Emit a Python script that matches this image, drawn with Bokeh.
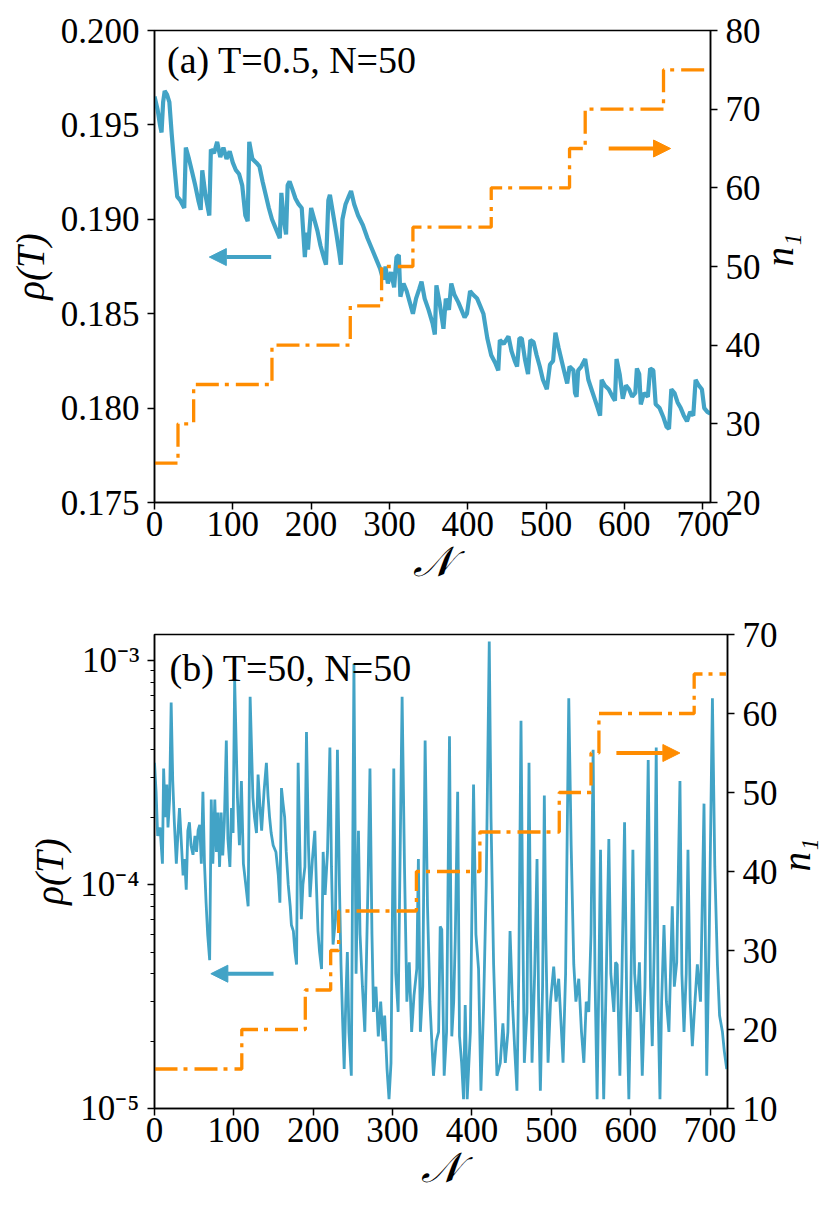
import math
from bokeh.plotting import figure
from bokeh.models import (Range1d, LinearAxis, LinearScale, FixedTicker, PrintfTickFormatter,
                          Arrow, NormalHead, Label, CustomJSTickFormatter)
from bokeh.layouts import column
from bokeh.embed import file_html
from bokeh.resources import INLINE

# ---------------- data: panel (a) T=0.5 ----------------
rho_a_x = [0, 4, 7, 9, 11, 13, 16, 19, 22, 25,
           29, 33, 38, 40, 44, 48, 52, 56, 59, 61,
           65, 70, 72, 76, 80, 84, 88, 92, 96, 100,
           104, 108, 112, 116, 119, 121, 125, 130, 134, 138,
           142, 146, 150, 154, 158, 160, 162, 165, 168, 170,
           172.5, 176, 180, 184, 188, 190, 192, 194, 196, 200,
           204, 208, 212, 216, 219, 222, 224, 228, 232, 236,
           238, 240, 244, 248, 251, 255, 260, 266, 272, 278,
           284, 288, 292, 295, 298, 302, 306, 309, 312, 314,
           318, 322, 326, 330, 334, 338, 341, 345, 350, 355,
           358, 360, 364, 369, 372, 376, 379, 383, 388, 392,
           396, 399, 403, 407, 412, 416, 420, 425, 430, 435,
           439, 441, 446, 452, 456, 460, 463, 466, 469, 473,
           477, 480, 484, 488, 492, 496, 501, 505, 509, 512,
           516, 520, 524, 527, 530, 535, 537, 539, 541, 545,
           550, 554, 558, 562, 566, 569, 571, 575, 580, 585,
           588, 590, 594, 598, 602, 606, 610, 614, 616, 619,
           621, 625, 630, 633, 637, 640, 645, 650, 654, 657,
           660, 664, 668, 672, 676, 680, 684, 688, 691, 695,
           699, 702, 706, 710]
rho_a = [.1965, .1958, .1950, .1946, .1962, .1968, .1966, .1962, .1945, .1930,
         .1912, .1910, .1906, .1938, .1932, .1925, .1918, .1910, .1905, .1926,
         .1913, .1902, .1937, .1935, .1941, .1933, .1938, .1932, .1936, .1930,
         .1926, .1924, .1918, .1902, .1899, .1941, .1932, .1930, .1928, .1920,
         .1913, .1906, .1900, .1896, .1892, .1890, .1914, .1900, .1892, .1918,
         .1920, .1916, .1911, .1908, .1906, .1893, .1880, .1893, .1884, .1906,
         .1900, .1894, .1886, .1880, .1876, .1910, .1913, .1903, .1893, .1882,
         .1876, .1900, .1908, .1912, .1915, .1908, .1902, .1897, .1890, .1884,
         .1878, .1874, .1868, .1875, .1866, .1872, .1864, .1880, .1881, .1859,
         .1866, .1862, .1856, .1850, .1858, .1863, .1867, .1858, .1852, .1845,
         .1839, .1865, .1856, .1842, .1858, .1852, .1866, .1860, .1856, .1852,
         .1848, .1850, .1862, .1860, .1858, .1854, .1850, .1837, .1828, .1824,
         .1820, .1836, .1834, .1838, .1830, .1825, .1822, .1837, .1837, .1826,
         .1818, .1836, .1835, .1828, .1822, .1815, .1810, .1823, .1825, .1840,
         .1832, .1825, .1818, .1813, .1822, .1820, .1808, .1806, .1820, .1822,
         .1826, .1815, .1810, .1805, .1800, .1796, .1815, .1812, .1810, .1806,
         .1804, .1826, .1818, .1805, .1812, .1810, .1806, .1808, .1821, .1818,
         .1802, .1808, .1806, .1821, .1820, .1802, .1800, .1795, .1790, .1789,
         .1810, .1808, .1803, .1800, .1796, .1793, .1798, .1796, .1815, .1812,
         .1810, .1800, .1798, .1797]
n1_a_x = [0, 30, 50, 150, 250, 290, 330, 430, 530, 550, 650, 710]
n1_a = [25, 30, 35, 40, 45, 50, 55, 60, 65, 70, 75, 75]

# ---------------- data: panel (b) T=50 ----------------
rho_b_x = [0, 2, 4, 7, 10, 11.5, 13.5, 15.5, 17, 19,
           21, 23, 25, 27.5, 30, 31.5, 34, 36, 38, 40,
           42, 44, 46, 48.5, 51, 53, 55, 57, 59, 61,
           63, 65, 67, 69.5, 71.5, 73.5, 76, 78, 80, 82,
           84, 86, 88, 90.5, 92.5, 95, 97, 99, 101, 104.5,
           107, 109.5, 112, 115, 118, 120.5, 124, 126, 128.5, 130.5,
           133, 135, 138, 141, 143, 145, 147, 149.5, 153, 156,
           158, 160, 162, 164, 166, 168.5, 171, 172.5, 175, 177,
           179, 181, 183, 185, 187, 189.5, 191.5, 194, 196, 199,
           202, 204, 206, 208, 210.5, 212.5, 215, 218, 221, 223,
           225, 228, 230.5, 233, 235, 237, 239, 241, 243, 245,
           248, 251.3, 254, 257, 259, 262, 265, 267, 269, 271.5,
           274, 276, 279, 282, 285, 288, 290, 293, 295.5, 298,
           301.5, 304, 307, 312, 315, 318, 321, 324, 327, 330.5,
           332.5, 335, 338, 341, 344, 347, 351.5, 355, 358, 360,
           362, 365, 368, 371.7, 374.6, 377, 379, 382, 384.3, 387,
           389.4, 391.5, 394, 398, 402, 405, 408.3, 411.3, 414.6, 418,
           421.8, 424, 427.3, 431.5, 435.7, 439, 442, 445.3, 448, 451,
           454, 456.7, 459, 461.8, 464, 466, 469.3, 471.9, 474, 475.7,
           479, 482, 484, 486.2, 489, 491.2, 493, 495.9, 499, 503,
           506, 509.3, 512, 514.8, 518, 522, 525, 528.3, 531, 534.6,
           538, 541, 544, 547.2, 550, 552.7, 555, 557.7, 560, 562,
           564, 566, 569, 572.5, 575, 578.8, 581, 583, 586.4, 589,
           592.3, 595, 597.7, 600, 602.8, 605, 608, 611, 614.6, 618,
           622.1, 625, 627.2, 630, 632.2, 634.5, 636.9, 639, 642, 645,
           648.2, 652.4, 655, 658, 662.1, 664.5, 667.2, 670, 672.2, 675,
           677.7, 681, 684, 688, 692.4, 695.8, 699, 703, 706, 709.3,
           712, 715.6, 718, 721]
rho_b = [3.5e-4, 2.6e-4, 1.65e-4, 1.8e-4, 1.24e-4, 3.3e-4, 2.0e-4, 2.8e-4, 1.8e-4, 2.4e-4,
         6.5e-4, 2.9e-4, 1.9e-4, 1.24e-4, 1.8e-4, 2.2e-4, 1.5e-4, 1.1e-4, 1.3e-4, 9.5e-5,
         1.74e-4, 1.9e-4, 1.5e-4, 1.36e-4, 1.65e-4, 1.4e-4, 1.75e-4, 1.85e-4, 1.24e-4, 2.6e-4,
         1.24e-4, 8.3e-5, 6.0e-5, 4.6e-5, 2.4e-4, 1.24e-4, 2.4e-4, 1.4e-4, 2.1e-4, 1.2e-4,
         2.1e-4, 1.35e-4, 1.9e-4, 4.4e-4, 1.6e-4, 1.2e-4, 2.2e-4, 1.7e-4, 8.2e-4, 2.45e-4,
         1.5e-4, 2.9e-4, 1.24e-4, 1.0e-4, 8.0e-5, 6.9e-4, 2.45e-4, 2.0e-4, 1.7e-4, 3.1e-4,
         2.2e-4, 1.74e-4, 2.6e-4, 3.5e-4, 2.5e-4, 2.0e-4, 1.7e-4, 1.5e-4, 1.4e-4, 1.1e-4,
         8.3e-5, 2.7e-4, 2.3e-4, 2.0e-4, 1.4e-4, 1.0e-4, 8.0e-5, 6.6e-5, 6.2e-5, 5.0e-5,
         4.4e-5, 3.5e-4, 1.5e-4, 7.0e-5, 1.0e-4, 1.2e-4, 4.8e-4, 1.5e-4, 8.8e-5, 1.3e-4,
         1.74e-4, 1.0e-4, 6.2e-5, 5.0e-5, 4.2e-5, 1.4e-4, 9.0e-5, 1.4e-4, 4.1e-4, 1.2e-4,
         5.4e-5, 7.0e-5, 4.0e-4, 1.0e-4, 4.4e-5, 2.5e-5, 1.5e-5, 3.0e-5, 5.0e-5, 2.2e-5,
         1.4e-5, 9.7e-4, 4.0e-5, 1.74e-4, 6.0e-5, 3.5e-5, 2.2e-5, 4.5e-5, 1.0e-4, 3.3e-4,
         6.0e-5, 2.7e-5, 3.5e-5, 2.1e-5, 3.0e-5, 2.0e-5, 2.6e-5, 1.5e-5, 1.1e-5, 1.6e-5,
         3.3e-4, 4.0e-5, 2.7e-5, 6.9e-4, 1.2e-4, 3.0e-5, 4.5e-5, 2.2e-5, 3.2e-5, 4.2e-5,
         1.3e-4, 2.2e-5, 3.5e-5, 4.4e-4, 8.0e-5, 3.0e-5, 1.4e-5, 2.0e-5, 2.2e-5, 6.5e-5,
         6.3e-5, 1.4e-5, 2.2e-5, 4.6e-4, 2.1e-5, 3.0e-5, 5.8e-5, 2.6e-4, 2.1e-5, 1.6e-5,
         1.1e-5, 2.9e-5, 1.1e-5, 2.2e-5, 2.8e-4, 6.0e-5, 4.2e-5, 1.2e-5, 2.8e-5, 1.0e-4,
         1.22e-3, 2.0e-4, 4.4e-5, 1.4e-5, 1.6e-5, 2.4e-5, 1.6e-5, 2.2e-5, 6.2e-5, 3.0e-5,
         1.8e-5, 1.2e-5, 4.0e-5, 5.4e-4, 7.0e-5, 1.6e-5, 2.7e-5, 3.5e-4, 5.0e-5, 1.6e-5,
         4.0e-5, 1.3e-4, 3.0e-5, 1.2e-5, 3.5e-5, 2.5e-4, 6.0e-5, 1.6e-5, 3.0e-5, 4.3e-5,
         3.0e-5, 3.8e-5, 2.5e-5, 1.6e-5, 4.0e-5, 6.8e-4, 1.5e-4, 4.4e-5, 3.0e-5, 3.8e-5,
         2.2e-5, 1.6e-5, 3.0e-5, 2.7e-5, 6.0e-5, 4.0e-4, 4.0e-5, 1.1e-5, 4.0e-5, 1.43e-4,
         3.0e-5, 1.1e-5, 3.5e-5, 1.6e-4, 4.0e-5, 2.7e-5, 4.5e-5, 4.4e-5, 1.4e-5, 4.0e-5,
         1.9e-4, 3.0e-5, 1.1e-5, 3.0e-5, 1.43e-4, 4.0e-5, 2.7e-5, 4.5e-5, 1.4e-5, 3.5e-5,
         3.6e-4, 3.5e-5, 1.9e-5, 6.0e-5, 4.1e-4, 3.0e-5, 1.1e-5, 3.0e-5, 6.6e-5, 3.0e-5,
         2.2e-5, 8.0e-5, 3.5e-5, 4.5e-5, 2.9e-4, 4.0e-5, 2.2e-5, 4.0e-5, 1.43e-4, 3.0e-5,
         1.9e-5, 3.0e-5, 4.4e-5, 3.0e-5, 2.3e-4, 1.4e-5, 6.0e-5, 6.8e-4, 1.2e-4, 4.4e-5,
         2.6e-5, 2.2e-5, 1.8e-5, 1.5e-5]
n1_b_x = [0, 110, 190, 222, 232, 330, 410, 510, 550, 560, 680, 720]
n1_b = [15, 20, 25, 30, 35, 40, 45, 50, 55, 60, 65, 65]

# ---------------- ticks ----------------
x_ticks = [0, 100, 200, 300, 400, 500, 600, 700]
rho_a_ticks = [0.175, 0.180, 0.185, 0.190, 0.195, 0.200]
n1_a_ticks = [20, 30, 40, 50, 60, 70, 80]
rho_b_ticks = [1e-5, 1e-4, 1e-3]
rho_b_minor = [2e-5, 3e-5, 4e-5, 5e-5, 6e-5, 7e-5, 8e-5, 9e-5,
               2e-4, 3e-4, 4e-4, 5e-4, 6e-4, 7e-4, 8e-4, 9e-4]
n1_b_ticks = [10, 20, 30, 40, 50, 60, 70]

BLUE = "#42a3c6"
ORANGE = "#ff8c00"
FONT = "'Liberation Serif', serif"
TICK_PX = "35px"
LAB_PX = "39px"
TITLE_PX = "38px"
DASH = "23 6 4 7"


def style_axis(ax, ticks, standoff=8):
    ax.ticker = FixedTicker(ticks=ticks)
    ax.major_label_text_font = FONT
    ax.major_label_text_font_size = TICK_PX
    ax.major_label_text_color = "black"
    ax.major_label_standoff = standoff
    ax.axis_line_color = "black"
    ax.axis_line_width = 1.5
    ax.major_tick_line_color = "black"
    ax.major_tick_line_width = 1.5
    ax.major_tick_out = 7
    ax.major_tick_in = 0
    ax.minor_tick_line_color = None
    ax.axis_label_text_font = FONT
    ax.axis_label_text_font_size = LAB_PX
    ax.axis_label_text_color = "black"


def base_fig(xmax, yrange, ytype, fw, fh, bl, bt, bb, br):
    p = figure(x_range=Range1d(0, xmax), y_range=yrange, y_axis_type=ytype,
               frame_width=fw, frame_height=fh, min_border_left=bl,
               min_border_top=bt, min_border_bottom=bb, min_border_right=br,
               output_backend="svg", toolbar_location=None)
    p.xgrid.grid_line_color = None
    p.ygrid.grid_line_color = None
    p.outline_line_color = "black"
    p.outline_line_width = 1.5
    p.background_fill_color = "white"
    p.border_fill_color = "white"
    return p


def right_axis(p, ticks):
    ax = LinearAxis(y_range_name="n1", axis_label="n₁")
    style_axis(ax, ticks)
    ax.axis_label_text_font_style = "italic"
    ax.axis_label_standoff = 16
    if "axis_label_orientation" in ax.properties():
        ax.axis_label_orientation = math.pi / 2
    p.add_layout(ax, "right")


# ---------------- panel (a) ----------------
pa = base_fig(710, Range1d(0.175, 0.200), "linear", 556, 472, 154, 30, 88, 100)
pa.extra_y_ranges = {"n1": Range1d(20, 80)}
pa.extra_y_scales = {"n1": LinearScale()}
pa.line(rho_a_x, rho_a, line_color=BLUE, line_width=4.2)
pa.step(n1_a_x, n1_a, mode="after", y_range_name="n1", line_color=ORANGE,
        line_width=3.3, line_dash=DASH)

style_axis(pa.xaxis[0], x_ticks, standoff=2)
pa.xaxis.axis_label = "𝒩"
pa.xaxis.axis_label_text_font_size = "42px"
pa.xaxis.axis_label_standoff = 0
style_axis(pa.yaxis[0], rho_a_ticks)
pa.yaxis.formatter = PrintfTickFormatter(format="%.3f")
pa.yaxis.axis_label = "ρ(T)"
pa.yaxis.axis_label_text_font_style = "italic"
pa.yaxis.axis_label_standoff = 6
right_axis(pa, n1_a_ticks)

pa.add_layout(Arrow(end=NormalHead(size=17, fill_color=BLUE, line_color=BLUE),
                    x_start=149, y_start=0.188, x_end=70, y_end=0.188,
                    line_color=BLUE, line_width=4))
pa.add_layout(Arrow(end=NormalHead(size=17, fill_color=ORANGE, line_color=ORANGE),
                    x_start=580, y_start=65, x_end=659, y_end=65,
                    y_range_name="n1", line_color=ORANGE, line_width=4))
pa.add_layout(Label(x=16, y=0.19844, text="(a) T=0.5, N=50", text_font=FONT,
                    text_font_size=TITLE_PX, text_color="black",
                    text_baseline="alphabetic"))

# ---------------- panel (b) ----------------
pb = base_fig(722, Range1d(1e-5, 1.31e-3), "log", 573, 474, 153, 44, 88, 90)
pb.extra_y_ranges = {"n1": Range1d(10, 70)}
pb.extra_y_scales = {"n1": LinearScale()}
pb.line(rho_b_x, rho_b, line_color=BLUE, line_width=2.8)
pb.step(n1_b_x, n1_b, mode="after", y_range_name="n1", line_color=ORANGE,
        line_width=3.3, line_dash=DASH)

style_axis(pb.xaxis[0], x_ticks, standoff=2)
pb.xaxis.axis_label = "𝒩"
pb.xaxis.axis_label_text_font_size = "42px"
pb.xaxis.axis_label_standoff = 0
style_axis(pb.yaxis[0], rho_b_ticks)
pb.yaxis.ticker = FixedTicker(ticks=rho_b_ticks, minor_ticks=rho_b_minor)
pb.yaxis.minor_tick_line_color = "black"
pb.yaxis.minor_tick_line_width = 1.2
pb.yaxis.minor_tick_out = 4
pb.yaxis.minor_tick_in = 0
pb.yaxis.formatter = CustomJSTickFormatter(code="""
const e = Math.round(Math.log10(tick));
const sup = {'-': '\u207b', '0': '\u2070', '1': '\u00b9', '2': '\u00b2', '3': '\u00b3',
             '4': '\u2074', '5': '\u2075', '6': '\u2076', '7': '\u2077', '8': '\u2078', '9': '\u2079'};
return '10' + String(e).split('').map(c => sup[c]).join('');
""")
pb.yaxis.axis_label = "ρ(T)"
pb.yaxis.axis_label_text_font_style = "italic"
pb.yaxis.axis_label_standoff = 6
right_axis(pb, n1_b_ticks)

pb.add_layout(Arrow(end=NormalHead(size=17, fill_color=BLUE, line_color=BLUE),
                    x_start=150, y_start=4e-5, x_end=71, y_end=4e-5,
                    line_color=BLUE, line_width=4))
pb.add_layout(Arrow(end=NormalHead(size=17, fill_color=ORANGE, line_color=ORANGE),
                    x_start=582, y_start=55, x_end=662, y_end=55,
                    y_range_name="n1", line_color=ORANGE, line_width=4))
pb.add_layout(Label(x=19, y=9.25e-4, text="(b) T=50, N=50", text_font=FONT,
                    text_font_size=TITLE_PX, text_color="black",
                    text_baseline="alphabetic"))

layout = column(pa, pb)
open("out.html", "w").write(file_html(layout, INLINE))
